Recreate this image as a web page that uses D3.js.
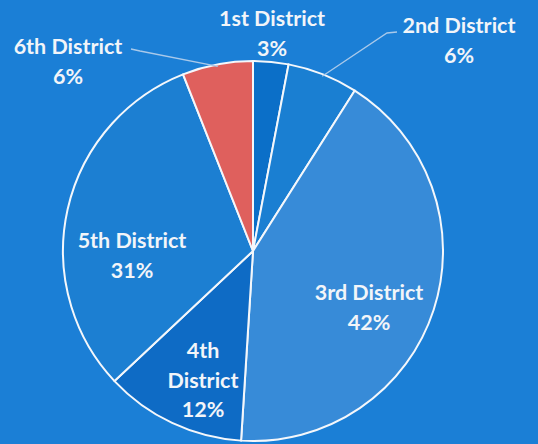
<!DOCTYPE html>
<html>
<head>
<meta charset="utf-8">
<script src="https://cdn.jsdelivr.net/npm/d3@7"></script>
<style>
  html, body { margin: 0; padding: 0; background: #1b7fd6; }
  svg { display: block; }
</style>
</head>
<body>
<div id="chart"></div>
<script>
'use strict';

// data
var districts = ["1st District", "2nd District", "3rd District", "4th District", "5th District", "6th District"];
var shares    = [3, 6, 42, 12, 31, 6];
var colors    = ["#0b6fc8", "#1a7fd2", "#378bd8", "#0e6bc5", "#1c7fd2", "#df605d"];

// label placement (text lines, anchor point) and leader-line elbows
var labelLines = [["1st District", "3%"], ["2nd District", "6%"], ["3rd District", "42%"],
                  ["4th", "District", "12%"], ["5th District", "31%"], ["6th District", "6%"]];
var labelAt    = [[272, 26], [459, 33], [369, 300], [203, 358], [132, 248], [68, 54]];
var leaderFrom = [null, [397, 32], null, null, null, [131, 49]];
var leaderKnee = [null, [387, 33], null, null, null, [140, 51]];

var width = 538, height = 444,
    cx = 253, cy = 251, radius = 190;

var svg = d3.select("#chart").append("svg")
    .attr("width", width)
    .attr("height", height);

svg.append("rect")
    .attr("width", width).attr("height", height)
    .attr("fill", "#1b7fd6");

var chart = svg.append("g")
    .attr("transform", "translate(" + cx + "," + cy + ")");

var pie = d3.pie().sort(null).value(function(d){ return d; });
var arcs = pie(shares);

var arc = d3.arc().innerRadius(0).outerRadius(radius);
var rimArc = d3.arc().innerRadius(radius - 2).outerRadius(radius - 2);

chart.selectAll("path.slice")
    .data(arcs)
    .enter().append("path")
        .attr("class", "slice")
        .attr("d", arc)
        .attr("fill", function(d, i){ return colors[i]; })
        .attr("stroke", "#f4f7fb")
        .attr("stroke-width", 2)
        .attr("stroke-linejoin", "round");

// leader lines for the outside labels
arcs.forEach(function(d, i) {
    if (!leaderFrom[i]) return;
    var c = rimArc.centroid(d);
    var pts = [[leaderFrom[i][0] - cx, leaderFrom[i][1] - cy],
               [leaderKnee[i][0] - cx, leaderKnee[i][1] - cy],
               c];
    chart.append("path")
        .attr("d", d3.line()(pts))
        .attr("fill", "none")
        .attr("stroke", "#a9c9ea")
        .attr("stroke-width", 1.3);
});

// labels
var lab = svg.selectAll("text.lab")
    .data(districts)
    .enter().append("text")
        .attr("class", "lab")
        .attr("x", function(d, i){ return labelAt[i][0]; })
        .attr("y", function(d, i){ return labelAt[i][1]; })
        .attr("text-anchor", "middle")
        .attr("fill", "#f2f5f9")
        .style("font-family", "Lato, 'Open Sans', sans-serif")
        .style("font-weight", "bold")
        .style("font-size", "21.5px");

lab.each(function(d, i) {
    var t = d3.select(this);
    labelLines[i].forEach(function(s, j) {
        t.append("tspan")
            .attr("x", labelAt[i][0])
            .attr("dy", j === 0 ? 0 : 29.5)
            .text(s);
    });
});
</script>
</body>
</html>
